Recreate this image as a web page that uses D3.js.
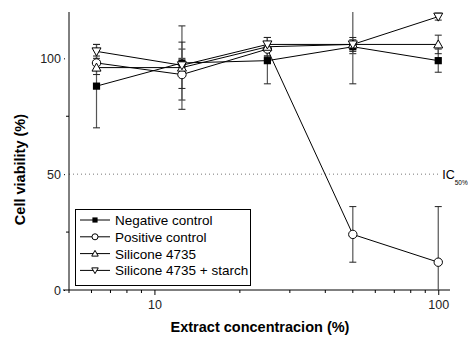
<!DOCTYPE html>
<html><head><meta charset="utf-8">
<script src="https://cdn.jsdelivr.net/npm/d3@7"></script>
<style>body{margin:0;background:#fff}svg{display:block;font-family:"Liberation Sans",Arial,sans-serif}</style>
</head><body><svg id="c" width="468" height="340"></svg>
<script>
const concentrations = [6.25, 12.5, 25, 50, 100];
const seriesNames = ["Negative control", "Positive control", "Silicone 4735", "Silicone 4735 + starch"];
const negativeControl = [88, 98, 99, 105, 99];
const negativeErr = [18, 2, 10, 3, 5];
const positiveControl = [98, 93, 104, 24, 12];
const positiveErr = [3, 11, 3, 12, 24];
const silicone = [96, 96, 105, 106, 106];
const siliconeErr = [3, 18, 4, 17, 4];
const siliconeStarch = [103, 97, 106, 106, 118];
const siliconeStarchErr = [3, 10, 3, 3, 1.5];
const yTicks = [0, 50, 100];
const yMinorTicks = [25, 75];
const xTicks = [10, 100];
const xMinorTicks = [5, 6, 7, 8, 9, 20, 30, 40, 50, 60, 70, 80, 90];
const ic50 = 50;

const series = [
  {name: seriesNames[0], v: negativeControl, e: negativeErr, sym: "square"},
  {name: seriesNames[1], v: positiveControl, e: positiveErr, sym: "circle"},
  {name: seriesNames[2], v: silicone, e: siliconeErr, sym: "up"},
  {name: seriesNames[3], v: siliconeStarch, e: siliconeStarchErr, sym: "down"}
];

const svg = d3.select("#c");
const L = 69, R = 450, T = 12, B = 290;
const x = d3.scaleLog().domain([5, 110]).range([L, R]);
const y = d3.scaleLinear().domain([0, 120]).range([B, T]);

svg.append("defs").append("clipPath").attr("id", "clip")
  .append("rect").attr("x", L).attr("y", T).attr("width", R - L + 20).attr("height", B - T);

// IC50 dotted line
svg.append("line").attr("x1", L).attr("x2", x(100) + 2).attr("y1", y(ic50)).attr("y2", y(ic50))
  .attr("stroke", "#777").attr("stroke-width", 1).attr("stroke-dasharray", "1,3");
const icT = svg.append("text").attr("x", x(100) + 4).attr("y", y(ic50) + 5)
  .attr("font-size", 12.5).attr("fill", "#000");
icT.append("tspan").text("IC");
icT.append("tspan").attr("dy", 6).attr("font-size", 6.5).text("50%");

// axes
const yAxis = d3.axisLeft(y).tickValues(yTicks).tickSize(5).tickPadding(3);
const gy = svg.append("g").attr("transform", `translate(${L},0)`).call(yAxis);
gy.selectAll(".tick line").attr("x1", -4);
gy.append("g").selectAll("line").data(yMinorTicks).join("line")
  .attr("x1", -3).attr("x2", 0).attr("y1", d => y(d)).attr("y2", d => y(d)).attr("stroke", "#000");
gy.select(".domain").attr("d", `M0,${T}V${B}`);

const xAxis = d3.axisBottom(x).tickValues(xTicks).tickFormat(d3.format("d")).tickSize(5).tickPadding(5);
const gx = svg.append("g").attr("transform", `translate(0,${B})`).call(xAxis);
gx.append("g").selectAll("line").data(xMinorTicks).join("line")
  .attr("x1", d => x(d)).attr("x2", d => x(d)).attr("y1", 0).attr("y2", 3).attr("stroke", "#000");
gx.select(".domain").attr("d", `M${L - 6},0H${R}`);
[gy, gx].forEach(g => {
  g.selectAll("text").attr("font-size", 12.5).attr("font-family", "Liberation Sans, Arial, sans-serif").attr("fill", "#222");
  g.selectAll(".domain,.tick line").attr("stroke", "#000");
});

// labels
svg.append("text").attr("x", 260).attr("y", 332).attr("text-anchor", "middle")
  .attr("font-size", 14.5).attr("font-weight", "bold").text("Extract concentracion (%)");
svg.append("text").attr("transform", `translate(25,${y(52)}) rotate(-90)`).attr("text-anchor", "middle")
  .attr("font-size", 14.5).attr("font-weight", "bold").text("Cell viability (%)");

function marker(g, sym, cx, cy, k) {
  if (sym === "square") {
    g.append("rect").attr("x", cx - 3.6 * k).attr("y", cy - 3.6 * k).attr("width", 7.2 * k).attr("height", 7.2 * k).attr("fill", "#000");
  } else if (sym === "circle") {
    g.append("circle").attr("cx", cx).attr("cy", cy).attr("r", 4.2 * k).attr("fill", "#fff").attr("stroke", "#000");
  } else if (sym === "up") {
    g.append("path").attr("d", `M${cx},${cy - 4.5 * k}L${cx + 4.5 * k},${cy + 3.5 * k}L${cx - 4.5 * k},${cy + 3.5 * k}Z`).attr("fill", "#fff").attr("stroke", "#000");
  } else {
    g.append("path").attr("d", `M${cx},${cy + 4.5 * k}L${cx + 4.5 * k},${cy - 3.5 * k}L${cx - 4.5 * k},${cy - 3.5 * k}Z`).attr("fill", "#fff").attr("stroke", "#000");
  }
}

const plot = svg.append("g").attr("clip-path", "url(#clip)");
// error bars
series.forEach(s => {
  const g = plot.append("g");
  concentrations.forEach((c, i) => {
    const cx = x(c), hi = y(s.v[i] + s.e[i]), lo = y(s.v[i] - s.e[i]);
    g.append("line").attr("x1", cx).attr("x2", cx).attr("y1", hi).attr("y2", lo).attr("stroke", "#555").attr("stroke-width", 1.2);
    [hi, lo].forEach(yy => g.append("line").attr("x1", cx - 3.5).attr("x2", cx + 3.5).attr("y1", yy).attr("y2", yy).attr("stroke", "#222"));
  });
});
// lines
const line = d3.line().x((d, i) => x(concentrations[i])).y(d => y(d));
series.forEach(s => {
  plot.append("path").attr("d", line(s.v)).attr("fill", "none").attr("stroke", "#000").attr("stroke-width", 1);
});
// markers
series.forEach(s => {
  const g = plot.append("g");
  concentrations.forEach((c, i) => marker(g, s.sym, x(c), y(s.v[i]), 1));
});

// legend
const lg = svg.append("g");
lg.append("rect").attr("x", 75.5).attr("y", 209.5).attr("width", 175).attr("height", 76)
  .attr("fill", "#fff").attr("stroke", "#000");
series.forEach((s, i) => {
  const yy = 220 + i * 16.8;
  lg.append("line").attr("x1", 80).attr("x2", 110).attr("y1", yy).attr("y2", yy).attr("stroke", "#000");
  marker(lg, s.sym, 95, yy, 0.72);
  lg.append("text").attr("x", 115).attr("y", yy + 5).attr("font-size", 13.5).text(s.name);
});
</script></body></html>
